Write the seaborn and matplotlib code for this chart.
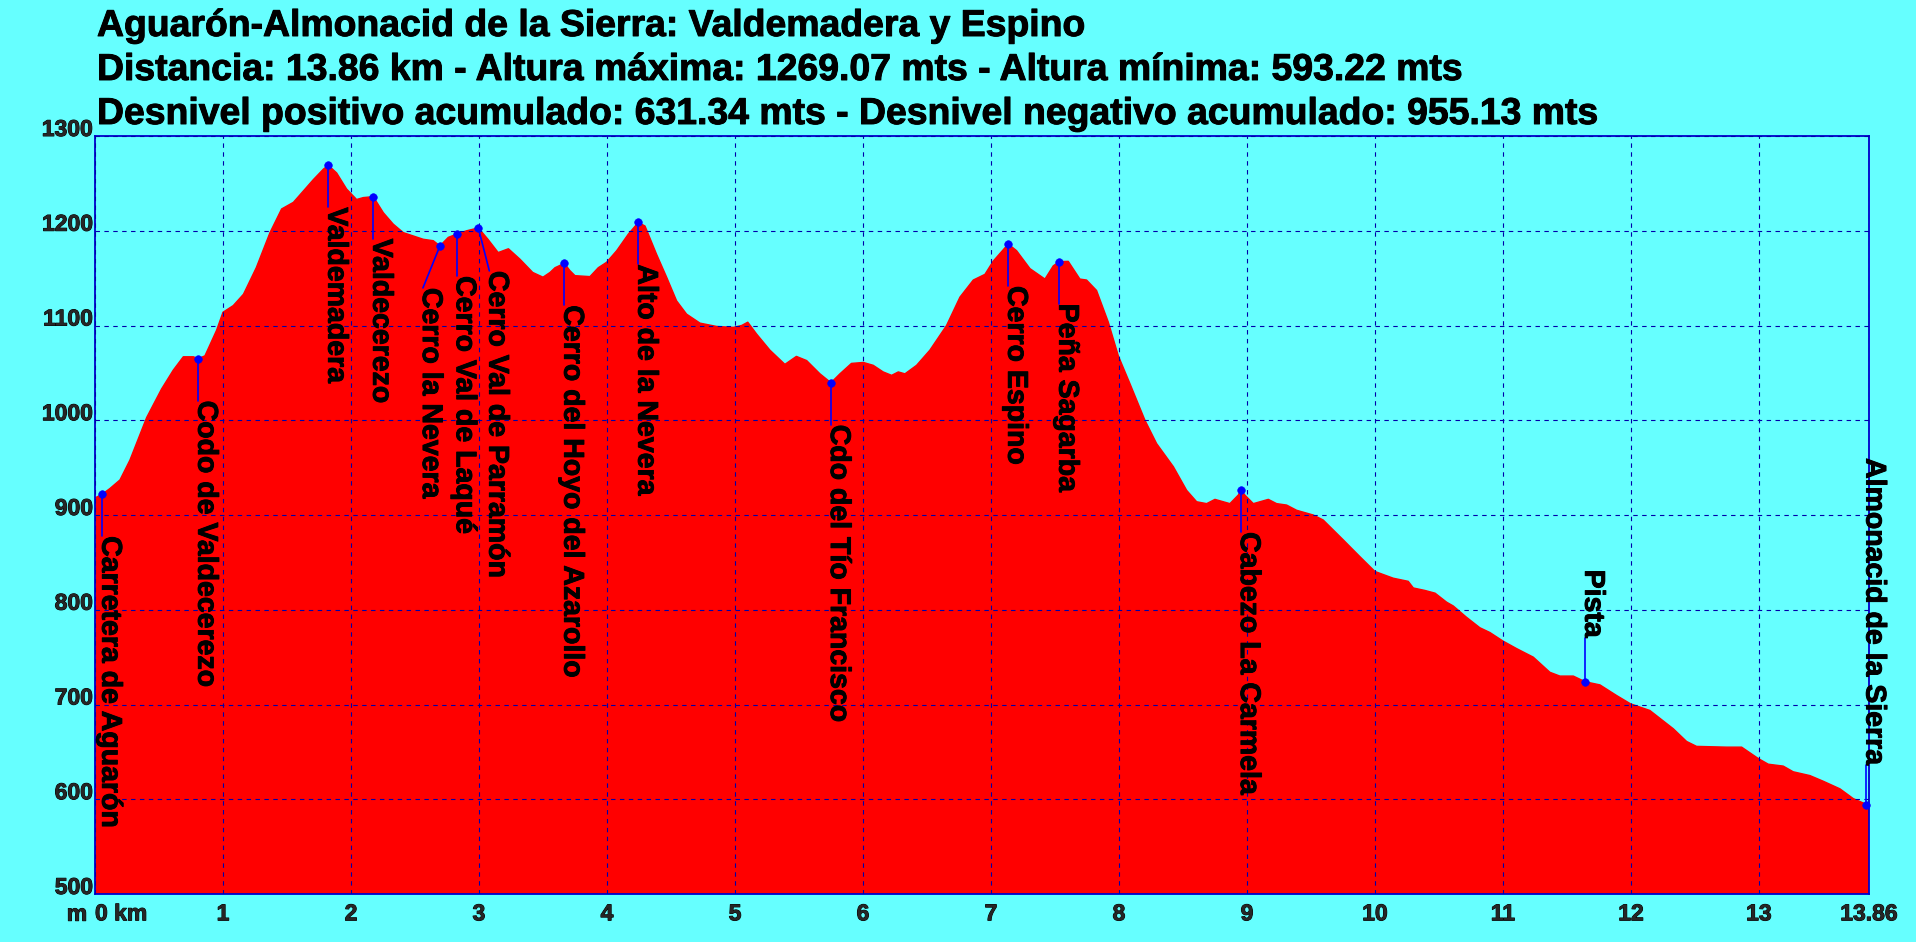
import numpy as np
import pandas as pd
import seaborn as sns
import matplotlib
matplotlib.use('Agg')
import matplotlib.pyplot as plt
import matplotlib.patheffects as pe

# perfil: distancia (km) y altura (m)
dist_km = [0.00, 0.057, 0.117, 0.195, 0.273, 0.404, 0.52, 0.612, 0.69, 0.768,
           0.807, 0.859, 0.95, 1.0, 1.08, 1.16, 1.26, 1.367, 1.458, 1.55,
           1.628, 1.706, 1.784, 1.823, 1.888, 1.966, 2.044, 2.096, 2.174, 2.253,
           2.33, 2.409, 2.565, 2.643, 2.695, 2.76, 2.826, 2.904, 2.995, 3.07,
           3.15, 3.23, 3.32, 3.42, 3.50, 3.555, 3.594, 3.667, 3.71, 3.75,
           3.867, 3.932, 3.997, 4.076, 4.167, 4.245, 4.297, 4.388, 4.466, 4.544,
           4.622, 4.727, 4.857, 4.987, 5.052, 5.10, 5.169, 5.273, 5.39, 5.48,
           5.56, 5.664, 5.75, 5.82, 5.91, 6.003, 6.08, 6.158, 6.224, 6.276,
           6.328, 6.419, 6.523, 6.653, 6.758, 6.862, 6.953, 7.018, 7.135, 7.2,
           7.305, 7.422, 7.487, 7.534, 7.604, 7.695, 7.747, 7.825, 7.917, 7.995,
           8.086, 8.203, 8.294, 8.425, 8.529, 8.607, 8.685, 8.75, 8.867, 8.932,
           8.953, 8.984, 9.05, 9.167, 9.232, 9.31, 9.388, 9.518, 9.596, 9.753,
           9.883, 10.0, 10.143, 10.26, 10.3, 10.39, 10.47, 10.56, 10.612, 10.716,
           10.82, 10.898, 11.0, 11.107, 11.237, 11.367, 11.445, 11.55, 11.643, 11.758,
           11.888, 11.997, 12.148, 12.331, 12.435, 12.513, 12.747, 12.865, 12.995, 13.073,
           13.19, 13.268, 13.398, 13.503, 13.633, 13.737, 13.833, 13.86]
altura_m = [918, 922, 928, 937, 958, 1003, 1033, 1053, 1067, 1067,
            1065, 1068, 1095, 1114, 1121, 1133, 1161, 1198, 1223, 1230,
            1242, 1254, 1265, 1269.07, 1261, 1244, 1233, 1235, 1236, 1219,
            1207, 1198, 1191, 1189.5, 1184, 1193, 1196.5, 1200, 1203, 1191,
            1177, 1181, 1170, 1156, 1151, 1156, 1161, 1165.6, 1158, 1152.6,
            1151.6, 1161, 1166.7, 1179, 1196.5, 1208.8, 1205, 1175, 1151, 1126,
            1112, 1102.5, 1099, 1098, 1100, 1103.5, 1091, 1074, 1059, 1067.4,
            1063, 1049, 1039.6, 1049, 1060, 1061, 1058, 1051, 1047.4, 1051,
            1049, 1058, 1074, 1100, 1130, 1148, 1154, 1168, 1186, 1179,
            1160, 1149, 1163, 1167.4, 1167.7, 1149, 1148, 1137, 1103.5, 1068,
            1038.6, 1000, 975.4, 951, 926, 914, 912, 916.5, 912, 921,
            926.3, 921, 912, 916.5, 912, 910.5, 905, 900, 894.7, 873.7,
            856, 840.4, 833.3, 830, 823, 820.4, 817.5, 808, 804, 792,
            781, 776, 767, 759, 750, 734, 730, 730, 724, 720.7,
            709.5, 700.7, 693.7, 674.4, 661, 655.8, 655, 655, 643, 637,
            635, 629, 625, 619, 611, 600.7, 595, 593.22]

# puntos de paso
wp_names = ['Carretera de Aguarón', 'Codo de Valdecerezo', 'Valdemadera', 'Valdecerezo',
            'Cerro la Nevera', 'Cerro Val de Laqué', 'Cerro Val de Parramón',
            'Cerro del Hoyo del Azarollo', 'Alto de la Nevera', 'Cdo del Tío Francisco',
            'Cerro Espino', 'Peña Sagarba', 'Cabezo La Carmela', 'Pista',
            'Almonacid de la Sierra']
wp_km = [0.057, 0.807, 1.823, 2.174, 2.695, 2.826, 2.995, 3.667, 4.245, 5.75,
         7.135, 7.534, 8.953, 11.643, 13.84]
wp_alt = [922, 1065, 1269.07, 1236, 1184, 1196.5, 1203, 1165.6, 1208.8, 1039.6,
          1186, 1167.4, 926.3, 724, 594]

titulo = ['Aguarón-Almonacid de la Sierra: Valdemadera y Espino',
          'Distancia: 13.86 km - Altura máxima: 1269.07 mts - Altura mínima: 593.22 mts',
          'Desnivel positivo acumulado: 631.34 mts - Desnivel negativo acumulado: 955.13 mts']

x_ticks = list(range(0, 14)) + [13.86]
x_labels = ['0 km'] + [str(i) for i in range(1, 14)] + ['13.86']
y_ticks = list(range(500, 1301, 100))

# desplazamiento de la etiqueta en pixeles (dx, dy hacia abajo)
label_offset = {'Cerro la Nevera': (-17, 42), 'Cerro Val de Parramón': (11, 43),
                'Pista': (0, -44), 'Almonacid de la Sierra': (0, -40)}

CIAN = '#66FFFF'
AZUL = '#0000FF'
grueso = [pe.withStroke(linewidth=0.7, foreground='black')]

sns.set_style('white')
plt.rcParams['font.family'] = ['Liberation Sans', 'DejaVu Sans']
plt.rcParams['font.weight'] = 'bold'

df = pd.DataFrame({'km': dist_km, 'alt': altura_m})

fig = plt.figure(figsize=(19.16, 9.42), dpi=100, facecolor=CIAN)
ax = fig.add_axes([95 / 1916, 48 / 942, 1774 / 1916, 758 / 942])
ax.set_facecolor(CIAN)

ax.fill_between(df['km'], 0, df['alt'], color='#FF0000', lw=0, zorder=1)
sns.lineplot(data=df, x='km', y='alt', ax=ax, color='#FF0000', lw=1, zorder=1)

ax.set_xlim(0, 13.86)
ax.set_ylim(500, 1300)
ax.set_xticks(x_ticks)
ax.set_xticklabels(x_labels, fontsize=16.5, fontweight='bold')
ax.set_yticks(y_ticks)
ax.set_yticklabels([str(v) for v in y_ticks], fontsize=16.5, fontweight='bold')
ax.tick_params(axis='x', length=0, pad=6)
ax.tick_params(axis='y', length=0, pad=1.5)
ax.get_xticklabels()[0].set_ha('left')
for lab in ax.get_yticklabels() + ax.get_xticklabels():
    lab.set_path_effects(grueso)
for lab in ax.get_yticklabels():
    lab.set_va('baseline')
ax.set_xlabel('')
ax.set_ylabel('')
ax.set_axisbelow(False)
ax.grid(True, color='#0000AA', lw=0.8, ls=(0, (4, 4)))
for sp in ax.spines.values():
    sp.set_color('#0000CC')
    sp.set_linewidth(1.3)

ax.text(-0.0045, -0.0115, 'm', transform=ax.transAxes, ha='right', va='top',
        fontsize=16.5, fontweight='bold', path_effects=grueso)

# puntos y etiquetas
sns.scatterplot(x=wp_km, y=wp_alt, ax=ax, color=AZUL, s=30, edgecolor=AZUL,
                zorder=5, clip_on=False)
for name, xk, ya in zip(wp_names, wp_km, wp_alt):
    dx, dy = label_offset.get(name, (0, 42))
    p0 = ax.transData.transform((xk, ya))
    x1, y1 = ax.transData.inverted().transform((p0[0] + dx, p0[1] - dy))
    ax.plot([xk, x1], [ya, y1], color=AZUL, lw=1.2, zorder=4, clip_on=False)
    ax.text(x1, y1, name, rotation=-90, rotation_mode='anchor',
            ha='left' if dy > 0 else 'right', va='baseline',
            fontsize=20.5, fontweight='bold', color='black', zorder=6,
            path_effects=grueso)

for i, t in enumerate(titulo):
    fig.text(97 / 1916, 1 - (36 + 44 * i) / 942, t, ha='left', va='baseline',
             fontsize=26.9, fontweight='bold', color='black', path_effects=grueso)

fig.savefig('out.png', dpi=100, facecolor=CIAN)
